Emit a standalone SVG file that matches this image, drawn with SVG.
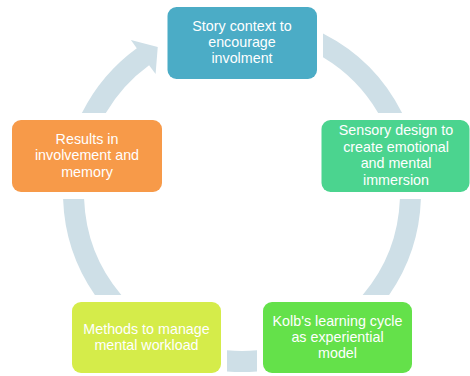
<svg xmlns="http://www.w3.org/2000/svg" width="470" height="376" viewBox="0 0 470 376">
<style>
.arc{fill:#CEDFE7;stroke:none}
.box{stroke:none}
.t{font-family:"Liberation Sans",Arial,sans-serif;font-size:14.3px;fill:#FFFFFF;text-anchor:middle}
</style>
<rect width="470" height="376" fill="#FFFFFF"/>
<g id="connectors">
<path class="arc" d="M81.9,113 A179,179 0 0 1 136.8,48.2 L130.9,40.1 L157.75,47.1 L155.6,74.1 L149.1,65.2 A158,158 0 0 0 105.8,113 Z"/>
<path class="arc" d="M323,33.4 A179,179 0 0 1 402.1,113 L378.2,113 A158,158 0 0 0 323,57.3 Z"/>
<path class="arc" d="M420.9,199 A179,179 0 0 1 389.1,295 L362.7,295 A158,158 0 0 0 399.9,199 Z"/>
<path class="arc" d="M257,371.4 A179,179 0 0 1 227,371.4 L227,350.3 A158,158 0 0 0 257,350.3 Z"/>
<path class="arc" d="M94.9,295 A179,179 0 0 1 63.1,199 L84.1,199 A158,158 0 0 0 121.3,295 Z"/>
</g>
<g id="node-story">
<rect class="box" x="167.5" y="7" width="149.5" height="72" rx="9" fill="#4BACC6"/>
<text class="t" x="242" y="30.6"><tspan x="242">Story context to</tspan><tspan x="242" dy="16.4">encourage</tspan><tspan x="242" dy="16.4">involment</tspan></text>
</g>
<g id="node-sensory">
<rect class="box" x="321.5" y="120" width="148" height="72" rx="9" fill="#4BD48F"/>
<text class="t" x="396" y="135.4"><tspan x="396">Sensory design to</tspan><tspan x="396" dy="16.4">create emotional</tspan><tspan x="396" dy="16.4">and mental</tspan><tspan x="396" dy="16.4">immersion</tspan></text>
</g>
<g id="node-kolb">
<rect class="box" x="263" y="302" width="149" height="71" rx="9" fill="#64E14A"/>
<text class="t" x="337.5" y="325.6"><tspan x="337.5">Kolb's learning cycle</tspan><tspan x="337.5" dy="16.4">as experiential</tspan><tspan x="337.5" dy="16.4">model</tspan></text>
</g>
<g id="node-methods">
<rect class="box" x="72" y="302" width="149" height="71" rx="9" fill="#D5EC4A"/>
<text class="t" x="146.5" y="334"><tspan x="146.5">Methods to manage</tspan><tspan x="146.5" dy="16.4">mental workload</tspan></text>
</g>
<g id="node-results">
<rect class="box" x="12" y="120" width="150" height="72" rx="9" fill="#F79A49"/>
<text class="t" x="87" y="143.9"><tspan x="87">Results in</tspan><tspan x="87" dy="16.4">involvement and</tspan><tspan x="87" dy="16.4">memory</tspan></text>
</g>
</svg>
